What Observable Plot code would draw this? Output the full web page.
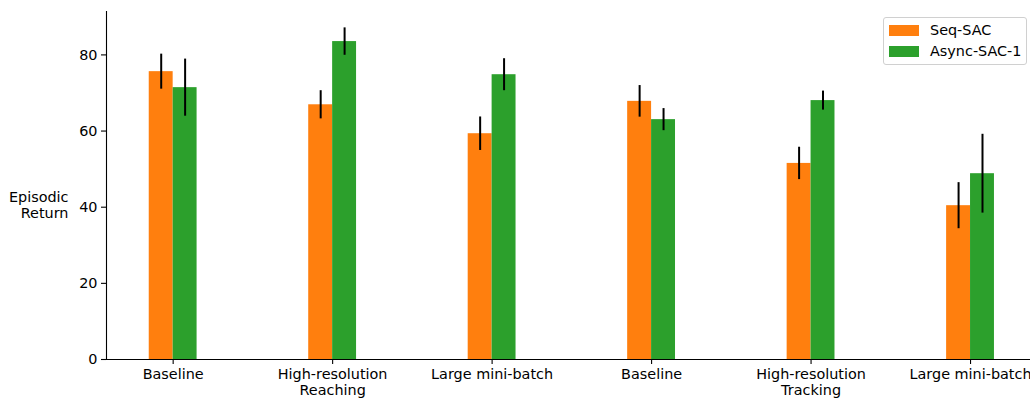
<!DOCTYPE html>
<html>
<head>
<meta charset="utf-8">
<script src="https://cdn.jsdelivr.net/npm/d3@7"></script>
<script src="https://cdn.jsdelivr.net/npm/@observablehq/plot@0.6"></script>
<style>
  html, body { margin: 0; padding: 0; background: #fff; }
  #wrap { position: relative; width: 1030px; height: 401px; font-family: "DejaVu Sans", sans-serif; }
  #legend { position: absolute; left: 883px; top: 17px; width: 142px; height: 46px;
    border: 1px solid #d0d0d0; border-radius: 3px; background: rgba(255,255,255,0.8);
    font-size: 14.4px; color: #000; }
  .item { position: absolute; left: 5px; height: 11px; }
  .sw { position: absolute; left: 0; top: 0; width: 30px; height: 11px; }
  .lab { position: absolute; left: 41px; top: -4px; white-space: nowrap; line-height: 18px; }
</style>
</head>
<body>
<div id="wrap">
  <div id="chart"></div>
  <div id="legend"></div>
</div>
<script>
const categories = ["Baseline", "High-resolution\nReaching", "Large mini-batch", "Baseline", "High-resolution\nTracking", "Large mini-batch"];
const seriesNames = ["Seq-SAC", "Async-SAC-1"];
const seriesColors = ["#ff7f0e", "#2ca02c"];
const seqSAC = [75.6, 66.9, 59.3, 67.8, 51.5, 40.4];
const seqSACErr = [4.6, 3.7, 4.4, 4.15, 4.25, 6.05];
const asyncSAC = [71.4, 83.5, 74.8, 63.0, 68.0, 48.8];
const asyncSACErr = [7.5, 3.6, 4.2, 2.9, 2.5, 10.35];
const yTicks = [0, 20, 40, 60, 80];

const barW = 0.15;
const rows = [];
categories.forEach((c, i) => {
  rows.push({i, s: 0, x1: i - barW, x2: i, xc: i - barW / 2, v: seqSAC[i], e: seqSACErr[i]});
  rows.push({i, s: 1, x1: i, x2: i + barW, xc: i + barW / 2, v: asyncSAC[i], e: asyncSACErr[i]});
});

const xDomain = [-0.418, 5.376];
const yDomain = [0, 91.4];
const fs = "14.4px";

const chart = Plot.plot({
  width: 1030,
  height: 401,
  marginLeft: 106,
  marginRight: 0,
  marginTop: 11,
  marginBottom: 42,
  style: {fontFamily: "DejaVu Sans, sans-serif", fontSize: fs, color: "#000", background: "#fff"},
  x: {type: "linear", domain: xDomain},
  y: {domain: yDomain},
  marks: [
    Plot.rectY(rows, {x1: "x1", x2: "x2", y1: 0, y2: "v", fill: d => seriesColors[d.s]}),
    Plot.ruleX(rows, {x: "xc", y1: d => d.v - d.e, y2: d => d.v + d.e, stroke: "#000", strokeWidth: 2}),
    Plot.ruleY([0], {stroke: "#000", strokeWidth: 1.1}),
    Plot.ruleX([xDomain[0]], {y1: yDomain[0], y2: yDomain[1], stroke: "#000", strokeWidth: 1.1}),
    Plot.axisY({ticks: yTicks, tickSize: 5, tickPadding: 4, label: null, fontSize: fs, strokeWidth: 1.1}),
    Plot.axisX({ticks: d3.range(categories.length), tickFormat: i => categories[i], tickSize: 5, tickPadding: 3,
      label: null, fontSize: fs, lineHeight: 1.13, strokeWidth: 1.1}),
    Plot.text(["Episodic\nReturn"], {frameAnchor: "left", text: d => d, textAnchor: "end", dx: -38, dy: 19,
      lineHeight: 1.13, fontSize: fs, fill: "#000"})
  ]
});
document.getElementById("chart").appendChild(chart);

const legend = document.getElementById("legend");
seriesNames.forEach((name, k) => {
  const it = document.createElement("div");
  it.className = "item";
  it.style.top = (7 + k * 21) + "px";
  it.innerHTML = `<div class="sw" style="background:${seriesColors[k]}"></div><div class="lab">${name}</div>`;
  legend.appendChild(it);
});
</script>
</body>
</html>
